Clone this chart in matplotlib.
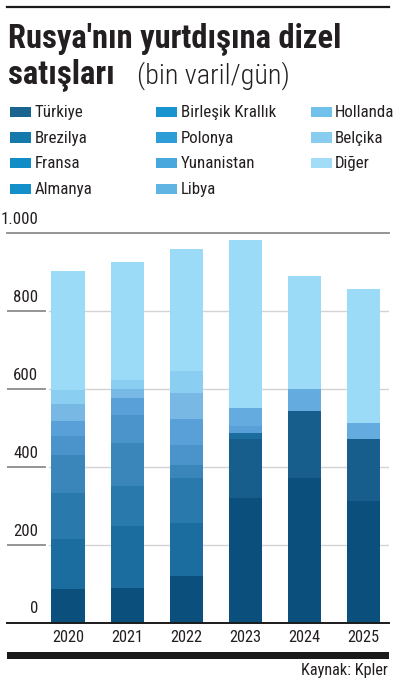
import matplotlib
matplotlib.use('Agg')
import matplotlib.pyplot as plt
from matplotlib import font_manager as fm
from matplotlib.patches import Rectangle
from matplotlib.lines import Line2D
import numpy as np

# Rusya'nın yurtdışına dizel satışları (bin varil/gün), kaynak: Kpler
years = ['2020', '2021', '2022', '2023', '2024', '2025']
turkiye = [87, 90, 119, 320, 372, 311]
brezilya = [0, 0, 0, 152, 171, 161]
fransa = [128, 157, 136, 15, 0, 0]
almanya = [118, 103, 116, 0, 0, 0]
birlesik_krallik = [98, 110, 33, 0, 0, 0]
polonya = [48, 72, 51, 0, 0, 0]
yunanistan = [37, 43, 67, 17, 0, 0]
libya = [0, 0, 0, 47, 56, 39]
hollanda = [46, 24, 66, 0, 0, 0]
belcika = [35, 23, 58, 0, 0, 0]
diger = [305, 303, 311, 430, 290, 344]

names = ['Türkiye', 'Brezilya', 'Fransa', 'Almanya', 'Birleşik Krallık', 'Polonya',
         'Yunanistan', 'Libya', 'Hollanda', 'Belçika', 'Diğer']
series = [turkiye, brezilya, fransa, almanya, birlesik_krallik, polonya,
          yunanistan, libya, hollanda, belcika, diger]
yticks = [0, 200, 400, 600, 800, 1000]

bar_colors = ['#0b4f7c', '#175e8c', '#1a6d9e', '#2a79ad', '#3a86bb', '#4a93cb',
              '#5aa0d8', '#64abdf', '#78b8e4', '#8acff1', '#9cdbf7']
leg_colors = ['#1a6590', '#157aab', '#128cc5', '#158fc9', '#1a94d0', '#2c9dd7',
              '#48a8dd', '#5fb4e4', '#72c1ea', '#88cdf0', '#a2dcf6']

# pick a narrow face if one is around (the original uses a condensed DIN)
avail = {f.name for f in fm.fontManager.ttflist}
stretch = 'normal'
family = 'Liberation Sans'
for cand in ['Roboto Condensed', 'Liberation Sans Narrow', 'Open Sans Condensed']:
    if cand in avail:
        family = cand
        break
else:
    if any(f.name == 'DejaVu Sans' and f.stretch == 'condensed' for f in fm.fontManager.ttflist):
        family, stretch = 'DejaVu Sans', 'condensed'
plt.rcParams['font.family'] = [family, 'DejaVu Sans']
plt.rcParams['font.stretch'] = stretch
TXT = '#231f20'

W, H = 397, 691
def fx(px):
    return px / W
def fy(py):
    return 1 - py / H

fig = plt.figure(figsize=(W / 100, H / 100), dpi=100)
renderer = fig.canvas.get_renderer()

def fit(t, target_w, max_size):
    bb = t.get_window_extent(renderer)
    size = min(t.get_fontsize() * target_w / bb.width, max_size)
    t.set_fontsize(size)
    return size

# header
fig.add_artist(Line2D([fx(7), fx(389)], [fy(7), fy(7)], color='#1a1a1a', lw=1.6))
t1 = fig.text(fx(8), fy(47), "Rusya'nın yurtdışına dizel", fontsize=20, weight='bold',
              color=TXT, va='baseline')
fit(t1, 353, 23.5)
t2 = fig.text(fx(8), fy(83.5), "satışları", fontsize=20, weight='bold', color=TXT, va='baseline')
t2.set_fontsize(t1.get_fontsize())
t3 = fig.text(fx(137), fy(83.5), "(bin varil/gün)", fontsize=16, weight='light',
              color=TXT, va='baseline')
fit(t3, 153, 21)

# legend, three columns
rows = [112, 137.5, 163, 189]
cols = [(10, 35), (156, 181), (311, 335)]
probe = fig.text(0, 0, 'Birleşik Krallık', fontsize=11)
leg_size = fit(probe, 86, 12) * 1.1
probe.remove()
for i, (name, c) in enumerate(zip(names, leg_colors)):
    px, tx = cols[i // 4]
    py = rows[i % 4]
    fig.add_artist(Rectangle((fx(px), fy(py + 5.3)), 21 / W, 10.6 / H,
                             transform=fig.transFigure, color=c, lw=0))
    fig.text(fx(tx), fy(py + 0.5), name, fontsize=leg_size, color=TXT, va='center')

# chart
ax = fig.add_axes([fx(7), fy(622.7), fx(389) - fx(7), fy(232.7) - fy(622.7)])
x = np.arange(len(years))
bottom = np.zeros(len(years))
for vals, c in zip(series, bar_colors):
    ax.bar(x, vals, 0.56, bottom=bottom, color=c, lw=0, zorder=2)
    bottom += np.array(vals)

ax.set_xlim(-1.032, 5.431)
ax.set_ylim(0, 1000)
for s in ax.spines.values():
    s.set_visible(False)
ax.set_yticks([])

probe = fig.text(0, 0, '2020', fontsize=11)
yr_size = fit(probe, 27, 12.5) * 1.2
probe.remove()
ax.set_xticks(x, years)
ax.tick_params(axis='x', length=0, pad=5, labelsize=yr_size, labelcolor=TXT)

short = (45 - 7) / 382
for v in yticks[1:-1]:
    ax.axhline(v, xmin=0.11, xmax=1, color='#d3d3d3', lw=1, zorder=1)
    ax.axhline(v, xmin=0, xmax=short, color='#8c8c8c', lw=1.3, zorder=1)
ax.axhline(1000, color='#8c8c8c', lw=1.3, clip_on=False, zorder=1)
ax.axhline(0, color='#1a1a1a', lw=1.4, clip_on=False, zorder=3)

probe = fig.text(0, 0, '800', fontsize=11)
tk_size = fit(probe, 20.7, 12.5) * 1.2
probe.remove()
for v in yticks:
    lab = f'{v:,}'.replace(',', '.')
    ax.annotate(lab, xy=(31 / 382, v), xycoords=('axes fraction', 'data'),
                xytext=(0, 4 if v else 5), textcoords='offset points',
                ha='right', va='bottom', fontsize=tk_size, color=TXT)

# footer
fig.add_artist(Rectangle((fx(7), fy(659)), (389 - 7) / W, 7 / H,
                         transform=fig.transFigure, color='#1a1a1a', lw=0))
t4 = fig.text(fx(388), fy(670), 'Kaynak: Kpler', ha='right', va='center', fontsize=11, color=TXT)
fit(t4, 80, 12)
t4.set_fontsize(t4.get_fontsize() * 1.08)

fig.savefig('out.png', dpi=100)
